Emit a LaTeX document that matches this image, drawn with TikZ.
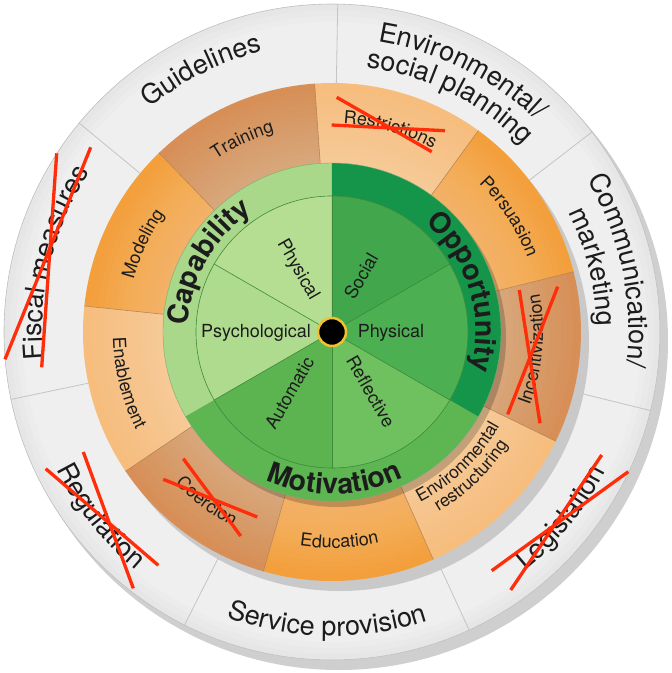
\documentclass[tikz,border=0pt]{standalone}
\usepackage{fontspec}
\setmainfont{TeX Gyre Heros}
\usetikzlibrary{decorations.text}

\definecolor{greyring}{HTML}{EFEFEF}
\definecolor{greyrim}{HTML}{CFCFCF}
\definecolor{greyshadow}{HTML}{C9C9C9}
\definecolor{greyline}{HTML}{C4C4C4}
\definecolor{orD}{HTML}{D78F57}
\definecolor{orL}{HTML}{F6BD7D}
\definecolor{orM}{HTML}{F39F3C}
\definecolor{orline}{HTML}{B98552}
\definecolor{capOut}{HTML}{A9D88B}
\definecolor{capIn}{HTML}{B5DE92}
\definecolor{capInB}{HTML}{AFDB8E}
\definecolor{oppOut}{HTML}{15954A}
\definecolor{oppIn}{HTML}{41A64C}
\definecolor{oppInB}{HTML}{4CAF52}
\definecolor{motOut}{HTML}{5DB652}
\definecolor{motIn}{HTML}{5CB451}
\definecolor{motInB}{HTML}{6FC05E}
\definecolor{gline}{HTML}{3E8A3C}
\definecolor{crossred}{HTML}{FF2D0A}
\definecolor{txt}{HTML}{1C1C1C}
\definecolor{dotring}{HTML}{F2C12E}

\newcommand\pieseg[4]{\fill[#1] (0,0) -- ({#2}:#4) arc[start angle={#2}, end angle={#3}, radius=#4] -- cycle;}
% clockwise text, tops outward
\newcommand\cwtext[4]{\path[decorate, decoration={text along path, text align=center, text color=txt, text={|#3|#4}}] ({#2+60}:#1) arc[start angle={#2+60}, end angle={#2-60}, radius=#1];}
% counter-clockwise text, tops inward
\newcommand\ccwtext[4]{\path[decorate, decoration={text along path, text align=center, text color=txt, text={|#3|#4}}] ({#2-60}:#1) arc[start angle={#2-60}, end angle={#2+60}, radius=#1];}
\newcommand\outerfont{\fontsize{27}{27}\selectfont}
\newcommand\midfont{\fontsize{18}{18}\selectfont}
\newcommand\envfont{\fontsize{17.5}{17.5}\selectfont}
\newcommand\greenfont{\bfseries\fontsize{28.5}{28.5}\selectfont}

\tikzset{
  inlabel/.style={font=\fontsize{18}{18}\selectfont, text=txt, anchor=mid, inner sep=0pt},
  crossline/.style={draw=crossred, line width=3.3pt},
  greydiv/.style={draw=greyline, line width=0.8pt},
  ordiv/.style={draw=orline, line width=0.6pt},
  gdiv/.style={draw=gline, line width=0.6pt}
}

\begin{document}
\begin{tikzpicture}[x=1pt,y=1pt]
\useasboundingbox (-332,-341) rectangle (340,332);
\fill[white] (-332,-341) rectangle (340,332);

% outer grey ring with shadow
\fill[greyrim] (7,-9) circle (329);
\filldraw[fill=greyring, draw=greyline, line width=0.6pt] (0,0) circle (328);
\foreach \r in {322,316,310}
  \fill[black, opacity=0.012, even odd rule] (0,0) circle (328) (0,0) circle (\r);
\foreach \a in {89,140.43,191.86,243.29,294.71,346.14,37.57}
  \draw[greydiv] (\a:249) -- (\a:328);

% shadow of orange ring
\fill[greyshadow] (8,-10) circle (249);

% orange ring segments
\foreach \k/\c in {0/orM,1/orL,2/orD,3/orM,4/orL,5/orD,6/orM,7/orL,8/orD}
  {\pieseg{\c}{14+40*\k}{54+40*\k}{249}}
% lighter towards the inside
\foreach \r in {241,235,229,223,217,211,205,199,193,187,181,175}
  \fill[white, opacity=0.025] (0,0) circle (\r);
\foreach \a in {14,54,94,134,174,214,254,294,334}
  \draw[ordiv] (\a:169) -- (\a:249);

% shadow of green disc
\fill[black, opacity=0.2] (5,-6) circle (169);

% green outer ring
\pieseg{capOut}{90}{210}{169}
\pieseg{motOut}{210}{330}{169}
\pieseg{oppOut}{-30}{90}{169}
% green inner sectors
\pieseg{capIn}{90}{150}{136}
\pieseg{capInB}{150}{210}{136}
\pieseg{motIn}{210}{270}{136}
\pieseg{motInB}{270}{330}{136}
\pieseg{oppInB}{-30}{30}{136}
\pieseg{oppIn}{30}{90}{136}
\draw[gdiv] (0,0) circle (136);
\draw[draw=gline!70, line width=0.4pt] (0,0) circle (169);
\foreach \a in {30,90,150,210,270,330}
  \draw[gdiv] (0,0) -- (\a:136);

% centre dot
\filldraw[fill=black, draw=dotring, line width=2.5pt] (0,0) circle (14);

% inner labels
\node[inlabel, rotate=-60] (physC) at (120.5:71) {Physical};
\node[inlabel] (psych) at (-76,-3) {Psychological};
\node[inlabel, rotate=60] (auto) at (238:74) {Automatic};
\node[inlabel, rotate=-60] (refl) at (-60:71) {Reflective};
\node[inlabel] (physO) at (59,-3) {Physical};
\node[inlabel, rotate=60] (social) at (59:63) {Social};

% green ring labels
\cwtext{144}{150.5}{\greenfont}{Capability}
\cwtext{144}{17}{\greenfont}{Opportunity}
\ccwtext{162}{-89}{\greenfont}{Motivation}

% orange ring labels
\cwtext{208}{115}{\midfont}{Training}
\cwtext{209}{74}{\midfont}{Restrictions}
\cwtext{209}{33}{\midfont}{Persuasion}
\cwtext{205}{155}{\midfont}{Modeling}
\ccwtext{219}{194}{\midfont}{Enablement}
\ccwtext{218}{233.5}{\midfont}{Coercion}
\ccwtext{216}{272}{\midfont}{Education}
\ccwtext{192}{314}{\envfont}{Environmental}
\ccwtext{209}{314}{\envfont}{restructuring}
\ccwtext{211}{-5}{\midfont}{Incentivization}

% outer ring labels
\cwtext{289}{116.5}{\outerfont}{Guidelines}
\cwtext{294}{63.5}{\outerfont}{Environmental/}
\cwtext{267}{63.5}{\outerfont}{social planning}
\cwtext{297}{12}{\outerfont}{Communication/}
\cwtext{265}{14}{\outerfont}{marketing}
\cwtext{290}{166}{\outerfont}{Fiscal measures}
\ccwtext{307}{-39}{\outerfont}{Legislation}
\ccwtext{304}{-91}{\outerfont}{Service provision}
\ccwtext{308}{218.5}{\outerfont}{Regulation}

% red crosses
\draw[crossline] (4.7,234.7) -- (99.7,180.3);
\draw[crossline] (-0.3,207) -- (113,201.3);
\draw[crossline] (187.3,42) -- (208,-91.3);
\draw[crossline] (225.7,45.3) -- (175.7,-82.3);
\draw[crossline] (-148.7,-126.7) -- (-91.3,-204);
\draw[crossline] (-168.7,-147.3) -- (-74.7,-185);
\draw[crossline] (-275.3,178.7) -- (-290.3,-35.3);
\draw[crossline] (-241.3,184.7) -- (-327,-27.3);
\draw[crossline] (-248.7,-120) -- (-198.7,-256.3);
\draw[crossline] (-286.3,-136.7) -- (-173.7,-233.3);
\draw[crossline] (269.7,-123) -- (178.7,-258);
\draw[crossline] (296.3,-139.7) -- (159.7,-238.7);
\end{tikzpicture}
\end{document}
